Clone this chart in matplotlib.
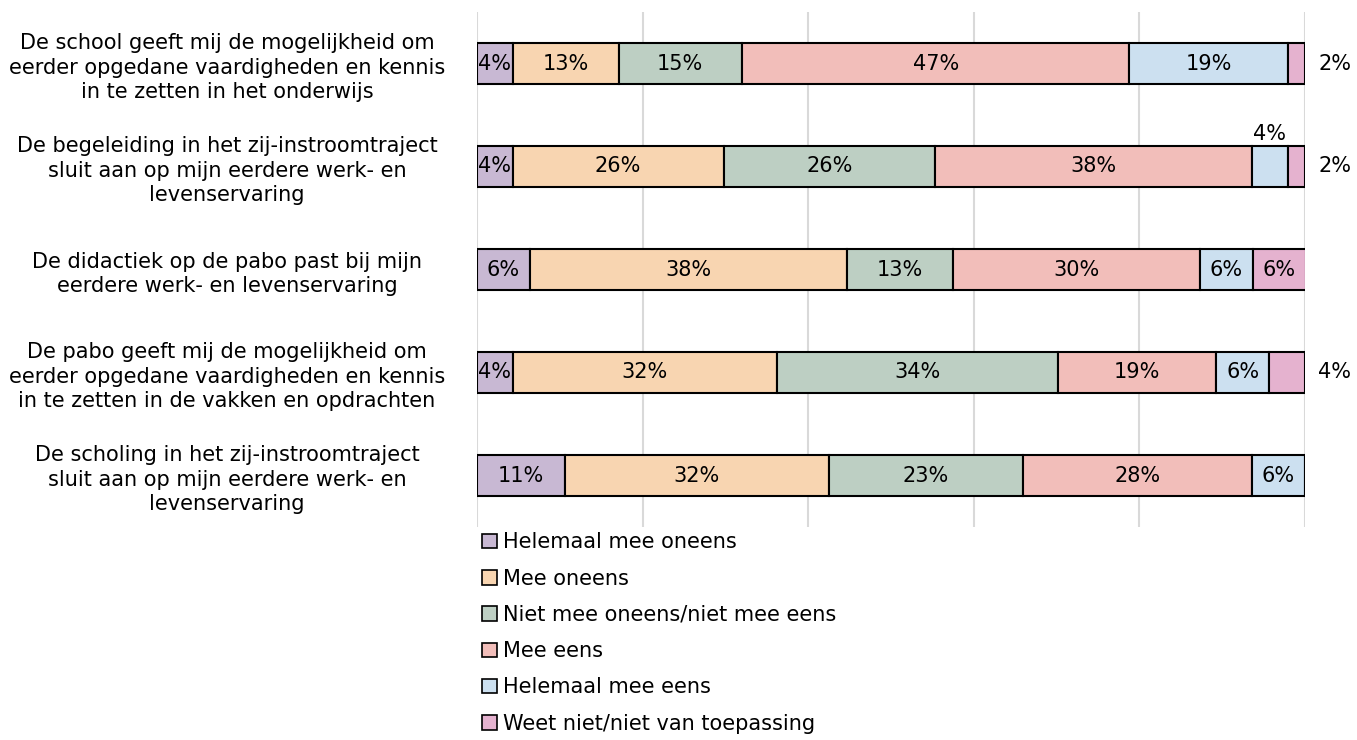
import matplotlib.pyplot as plt
import numpy as np

plt.rcParams['font.family'] = ['DejaVu Sans']

# statements (top to bottom)
statements = [
    "De school geeft mij de mogelijkheid om\neerder opgedane vaardigheden en kennis\nin te zetten in het onderwijs",
    "De begeleiding in het zij-instroomtraject\nsluit aan op mijn eerdere werk- en\nlevenservaring",
    "De didactiek op de pabo past bij mijn\neerdere werk- en levenservaring",
    "De pabo geeft mij de mogelijkheid om\neerder opgedane vaardigheden en kennis\nin te zetten in de vakken en opdrachten",
    "De scholing in het zij-instroomtraject\nsluit aan op mijn eerdere werk- en\nlevenservaring",
]

answers = [
    "Helemaal mee oneens",
    "Mee oneens",
    "Niet mee oneens/niet mee eens",
    "Mee eens",
    "Helemaal mee eens",
    "Weet niet/niet van toepassing",
]

# percentages per answer, one value per statement
helemaal_oneens = [4.3, 4.3, 6.4, 4.3, 10.6]
oneens = [12.8, 25.5, 38.3, 31.9, 31.9]
neutraal = [14.9, 25.5, 12.8, 34.0, 23.4]
eens = [46.8, 38.3, 29.8, 19.1, 27.7]
helemaal_eens = [19.1, 4.3, 6.4, 6.4, 6.4]
weet_niet = [2.1, 2.1, 6.4, 4.3, 0.0]

series = [helemaal_oneens, oneens, neutraal, eens, helemaal_eens, weet_niet]
colors = ["#C8B8D3", "#F8D5B1", "#BDCFC3", "#F2BEBA", "#CCE0F0", "#E5B2CF"]
fs = 15

fig = plt.figure(figsize=(13.57, 7.40), dpi=100)
ax = fig.add_axes([477 / 1357, 1 - 527 / 740, (1305 - 477) / 1357, (527 - 12) / 740])

y = np.arange(len(statements))
left = np.zeros(len(statements))
for i, (vals, col, name) in enumerate(zip(series, colors, answers)):
    vals = np.array(vals)
    ax.barh(y, vals, left=left, height=0.4, color=col, edgecolor="black",
            linewidth=1.5, label=name, zorder=3)
    for j, v in enumerate(vals):
        if v <= 0:
            continue
        txt = "%d%%" % round(v)
        xc = left[j] + v / 2
        if v < 3 or (i == len(series) - 1 and v < 5):
            # small last segment: label right of bar
            ax.text(left[j] + v + 1.6, y[j], txt, ha="left", va="center", fontsize=fs)
        elif v < 5 and i > 0:
            ax.text(xc, y[j] - 0.32, txt, ha="center", va="center", fontsize=fs)
        else:
            ax.text(xc, y[j], txt, ha="center", va="center", fontsize=fs)
    left += vals

ax.set_xlim(0, 100)
ax.set_ylim(len(statements) - 0.5, -0.5)
ax.set_xticks(np.arange(0, 101, 20))
ax.set_xticklabels([])
ax.tick_params(length=0)
ax.grid(axis="x", color="#D9D9D9", linewidth=1.5, zorder=0)
for s in ax.spines.values():
    s.set_visible(False)

ax.set_yticks(y)
ax.set_yticklabels(statements, fontsize=fs, ha="center", linespacing=1.28)
ax.tick_params(axis="y", pad=180)

h, l = ax.get_legend_handles_labels()
leg = fig.legend(h, l, loc="upper left", bbox_to_anchor=(474 / 1357, 1 - 524 / 740),
                 frameon=False, fontsize=fs, handlelength=0.7, handleheight=0.7,
                 handletextpad=0.3, labelspacing=0.78, borderaxespad=0)
for p in leg.get_patches():
    p.set_linewidth(1.2)

fig.savefig("out.png", dpi=100)
